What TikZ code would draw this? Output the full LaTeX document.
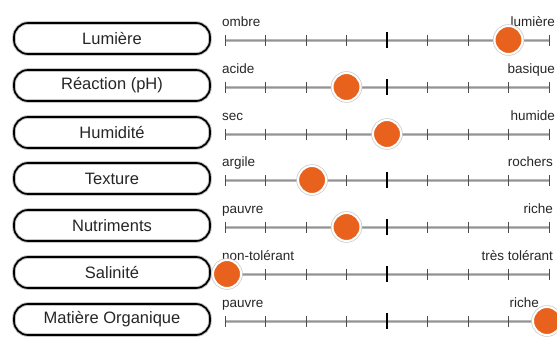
\documentclass[tikz,border=0pt]{standalone}
\usepackage{fontspec}
\setmainfont{Liberation Sans}
\usetikzlibrary{calc}
\definecolor{knob}{HTML}{E8621E}
\tikzset{
  factor/.style={draw=black, line width=1.7pt, rounded corners=14pt,
    minimum width=196pt, minimum height=31pt, inner sep=0pt,
    font=\fontsize{16.5}{18}\selectfont, text=black!85,
    preaction={draw=gray!45, line width=3.6pt}},
  endlabel/.style={font=\fontsize{13.5}{15}\selectfont, text=black!85, inner sep=0pt},
  track/.style={draw=gray!55, line width=3pt},
  trackcore/.style={draw=gray!85, line width=0.7pt},
  minortick/.style={draw=black!70, line width=1pt},
  majortick/.style={draw=black, line width=2.2pt},
  knobdot/.style={circle, fill=knob, draw=white, line width=2pt,
    minimum size=28pt, inner sep=0pt, preaction={draw=gray!40, line width=3.5pt}}
}
\begin{document}
\begin{tikzpicture}[x=1pt,y=-1pt]
\useasboundingbox (0,0) rectangle (557,340);
% factor rows: name, track height, left label, right label, knob tick position, right label x
\foreach \i/\name/\ty/\lo/\hi/\pos/\hx in {
  1/Lumière/40/ombre/lumière/7/555,
  2/Réaction (pH)/87/acide/basique/3/555,
  3/Humidité/134/sec/humide/4/555,
  4/Texture/180/argile/rochers/2.15/553,
  5/Nutriments/227/pauvre/riche/3/553,
  6/Salinité/274/non-tolérant/très tolérant/0.05/553,
  7/Matière Organique/321/pauvre/riche/7.95/539}{
  \node[factor] (f\i) at (112,\ty-1.5) {\name};
  \coordinate (a\i) at (225,\ty);
  \coordinate (b\i) at (549,\ty);
  \draw[track] (a\i) -- (b\i);
  \draw[trackcore] (a\i) -- (b\i);
  \foreach \k in {0,1,2,3,5,6,7,8}{
    \draw[minortick] ($(a\i)!\k/8!(b\i)+(0,-5.5)$) -- ($(a\i)!\k/8!(b\i)+(0,5.5)$);
  }
  \draw[majortick] ($(a\i)!0.5!(b\i)+(0,-8)$) -- ($(a\i)!0.5!(b\i)+(0,8)$);
  \node[endlabel, anchor=base west] (l\i) at (222,\ty-14) {\lo};
  \node[endlabel, anchor=base east] (r\i) at (\hx,\ty-14) {\hi};
  \node[knobdot] (k\i) at ($(a\i)!\pos/8!(b\i)$) {};
}
\end{tikzpicture}
\end{document}
